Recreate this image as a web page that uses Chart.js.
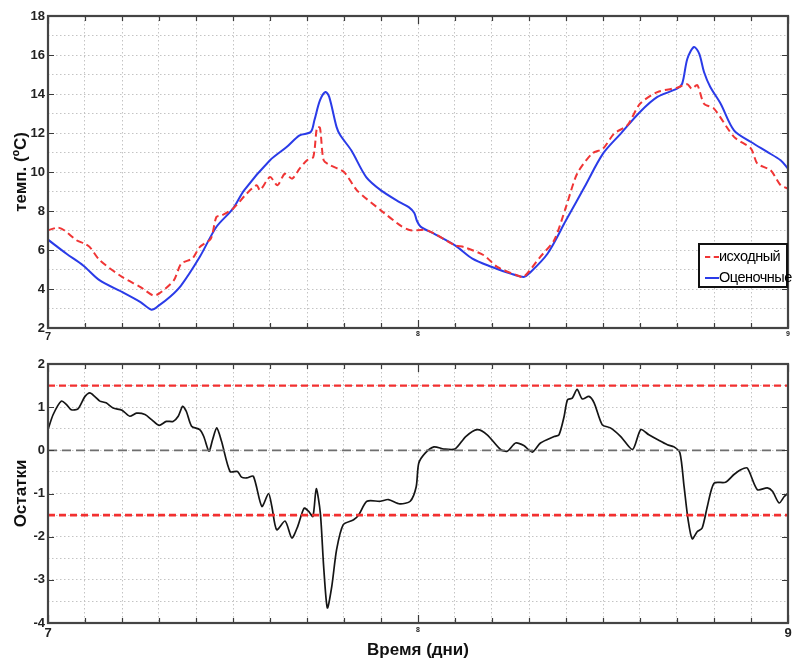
<!DOCTYPE html>
<html>
<head>
<meta charset="utf-8">
<script src="https://cdn.jsdelivr.net/npm/chart.js@4.4.1/dist/chart.umd.min.js"></script>
<style>
  html, body { margin:0; padding:0; background:#fff; }
  body { width:798px; height:659px; overflow:hidden; position:relative; font-family:"Liberation Sans", Arial, sans-serif; }
  #c1 { position:absolute; left:0; top:0; }
  #c2 { position:absolute; left:0; top:340px; }
  #legend { position:absolute; left:698px; top:243px; width:86px; height:41px; border:2px solid #111; background:#fff; overflow:visible; }
  .row { position:absolute; left:0; height:20px; white-space:nowrap; font-size:14.5px; letter-spacing:-0.5px; color:#000; font-family:"Liberation Sans Narrow","Liberation Sans",Arial,sans-serif; }
  .row span.s { position:absolute; left:5px; top:9px; width:14px; height:0; }
  .row span.t { position:absolute; left:19px; top:1px; }
</style>
</head>
<body>
<canvas id="c1" width="798" height="340"></canvas>
<canvas id="c2" width="798" height="319"></canvas>
<div id="legend">
  <div class="row" style="top:2px"><span class="s" style="border-top:2px dashed #f03535"></span><span class="t">исходный</span></div>
  <div class="row" style="top:23px"><span class="s" style="border-top:2px solid #2a3be8"></span><span class="t">Оценочные</span></div>
</div>
<script>
// ---------- data ----------
const xAxisMin = 7, xAxisMax = 9;
const seriesNames = ['исходный', 'Оценочные'];
const yTitleTop = 'темп. (ºC)';
const yTitleBottom = 'Остатки';
const xTitle = 'Время (дни)';

const estX = [7.000,7.050,7.095,7.140,7.200,7.250,7.280,7.300,7.330,7.360,7.410,7.455,7.500,7.530,7.600,7.645,7.680,7.710,7.720,7.735,7.750,7.760,7.780,7.790,7.820,7.860,7.900,7.950,7.975,7.990,7.997,8.007,8.043,8.100,8.147,8.200,8.250,8.286,8.300,8.350,8.400,8.450,8.500,8.548,8.600,8.647,8.700,8.714,8.728,8.746,8.760,8.773,8.790,8.818,8.854,8.900,8.944,8.980,9.000];
const estY = [6.53,5.81,5.21,4.44,3.85,3.33,2.94,3.16,3.60,4.19,5.64,7.18,8.12,9.06,10.60,11.28,11.88,12.05,12.65,13.67,14.10,13.85,12.30,11.88,11.10,9.74,9.06,8.46,8.20,7.90,7.50,7.20,6.84,6.24,5.56,5.13,4.79,4.62,4.79,5.81,7.52,9.23,10.94,11.97,13.08,13.85,14.27,14.53,15.81,16.41,16.07,15.13,14.36,13.50,12.14,11.54,11.03,10.60,10.17];

const origX = [7.000,7.027,7.045,7.077,7.100,7.113,7.140,7.200,7.250,7.284,7.300,7.340,7.360,7.390,7.410,7.440,7.455,7.470,7.500,7.537,7.564,7.573,7.600,7.620,7.640,7.660,7.680,7.700,7.717,7.727,7.735,7.745,7.763,7.800,7.835,7.900,7.953,7.980,8.025,8.100,8.124,8.178,8.214,8.268,8.286,8.330,8.368,8.400,8.430,8.470,8.500,8.530,8.566,8.600,8.647,8.700,8.728,8.740,8.755,8.773,8.800,8.854,8.900,8.917,8.953,8.980,9.000];
const origY = [7.01,7.15,7.00,6.50,6.32,6.15,5.47,4.62,4.10,3.67,3.76,4.44,5.30,5.56,6.15,6.58,7.69,7.78,8.12,8.89,9.32,9.06,9.74,9.32,9.91,9.66,10.17,10.60,10.77,12.30,12.27,10.60,10.34,10.00,9.06,8.03,7.25,7.01,7.01,6.24,6.15,5.73,5.13,4.70,4.62,5.64,6.50,8.21,9.91,10.94,11.20,11.97,12.40,13.50,14.10,14.32,14.50,14.27,14.45,13.50,13.25,11.80,11.20,10.43,10.09,9.32,9.15];

const resX = [7.000,7.014,7.036,7.050,7.063,7.081,7.100,7.113,7.126,7.140,7.157,7.176,7.200,7.221,7.239,7.262,7.280,7.300,7.320,7.338,7.352,7.364,7.374,7.388,7.410,7.421,7.435,7.445,7.456,7.469,7.492,7.512,7.523,7.537,7.555,7.578,7.596,7.605,7.618,7.641,7.659,7.675,7.692,7.704,7.716,7.725,7.736,7.745,7.755,7.767,7.780,7.798,7.826,7.840,7.862,7.898,7.920,7.951,7.979,7.995,8.002,8.020,8.043,8.070,8.100,8.129,8.160,8.187,8.223,8.241,8.264,8.286,8.309,8.331,8.368,8.381,8.395,8.404,8.417,8.430,8.444,8.462,8.476,8.498,8.520,8.548,8.580,8.602,8.624,8.647,8.674,8.692,8.708,8.719,8.730,8.741,8.755,8.768,8.782,8.800,8.831,8.854,8.872,8.890,8.917,8.944,8.958,8.976,8.990,9.000];
const resY = [0.48,0.83,1.14,1.06,0.94,0.96,1.25,1.33,1.25,1.14,1.10,0.98,0.93,0.79,0.86,0.83,0.71,0.58,0.67,0.67,0.79,1.02,0.90,0.56,0.48,0.32,-0.02,0.25,0.52,0.21,-0.49,-0.49,-0.62,-0.64,-0.60,-1.30,-1.00,-1.30,-1.84,-1.64,-2.03,-1.76,-1.34,-1.41,-1.53,-0.89,-1.45,-2.69,-3.65,-3.15,-2.30,-1.72,-1.61,-1.49,-1.18,-1.18,-1.14,-1.24,-1.18,-0.85,-0.30,-0.06,0.08,0.03,0.03,0.32,0.48,0.36,0.02,-0.02,0.17,0.11,-0.04,0.17,0.32,0.36,0.79,1.17,1.21,1.41,1.19,1.25,1.10,0.59,0.52,0.32,0.02,0.48,0.36,0.25,0.13,0.08,-0.06,-0.83,-1.61,-2.05,-1.88,-1.80,-1.30,-0.76,-0.74,-0.56,-0.45,-0.41,-0.91,-0.87,-0.95,-1.22,-1.07,-0.99];

const limitValues = [1.5, -1.5];
const zeroValue = 0;

const topYTicks = [2,4,6,8,10,12,14,16,18];
const botYTicks = [-4,-3,-2,-1,0,1,2];
const xLabels = [7,8,9];

// ---------- helpers ----------
const pts = (xs, ys) => xs.map((x, i) => ({ x, y: ys[i] }));
const hline = v => [{ x: xAxisMin, y: v }, { x: xAxisMax, y: v }];
const isInt = v => Math.abs(v - Math.round(v)) < 1e-6;

const framePlugin = {
  id: 'frame',
  afterDatasetsDraw(chart, args, opts) {
    const { ctx, chartArea: a, scales: { x, y } } = chart;
    ctx.save();
    ctx.strokeStyle = '#3a3a3a';
    ctx.lineWidth = 1.2;
    ctx.beginPath();
    x.ticks.forEach(t => {
      const px = Math.round(x.getPixelForValue(t.value)) + 0.5;
      const L = isInt(t.value) ? 8 : 5;
      ctx.moveTo(px, a.bottom); ctx.lineTo(px, a.bottom - L);
      ctx.moveTo(px, a.top); ctx.lineTo(px, a.top + L);
    });
    opts.yMarks.forEach(v => {
      const py = Math.round(y.getPixelForValue(v)) + 0.5;
      ctx.moveTo(a.left, py); ctx.lineTo(a.left + 6, py);
      ctx.moveTo(a.right, py); ctx.lineTo(a.right - 6, py);
    });
    ctx.stroke();
    ctx.lineWidth = 2.2;
    ctx.strokeStyle = '#444';
    ctx.strokeRect(a.left, a.top, a.right - a.left, a.bottom - a.top);
    ctx.restore();
  }
};

const tickFontFam = "'Liberation Sans Narrow','Liberation Sans',Arial,sans-serif";

function makeX(opts) {
  return {
    type: 'linear', min: xAxisMin, max: xAxisMax,
    afterFit: s => { s.height = opts.height; },
    afterBuildTicks: s => {
      const t = [];
      for (let i = 0; i <= 20; i++) t.push({ value: +(xAxisMin + i * 0.1).toFixed(1) });
      s.ticks = t;
    },
    ticks: {
      autoSkip: false, maxRotation: 0, minRotation: 0, padding: opts.tickPad, color: '#222',
      callback: v => (isInt(v) && xLabels.includes(Math.round(v))) ? String(Math.round(v)) : '',
      font: opts.tickFont
    },
    grid: { color: '#c4c4c4', lineWidth: 1, drawTicks: false },
    border: { display: false, dash: [1.5, 2.5] },
    title: opts.title
  };
}

function makeY(min, max, step, labels, title) {
  return {
    type: 'linear', min, max,
    afterFit: s => { s.width = 48; },
    afterBuildTicks: s => {
      const t = [];
      const n = Math.round((max - min) / step);
      for (let i = 0; i <= n; i++) t.push({ value: +(min + i * step).toFixed(2) });
      s.ticks = t;
    },
    ticks: {
      autoSkip: false, padding: 3, color: '#222',
      font: { family: tickFontFam, size: 13, weight: 'bold' },
      callback: v => labels.some(l => Math.abs(l - v) < 1e-6) ? String(Math.round(v)) : ''
    },
    grid: { color: '#c4c4c4', lineWidth: 1, drawTicks: false },
    border: { display: false, dash: [1.5, 2.5] },
    title: {
      display: true, text: title, color: '#111',
      font: { family: "'Liberation Sans',Arial,sans-serif", size: 17, weight: 'bold', lineHeight: 1.2 },
      padding: { top: 11, bottom: 0 }
    }
  };
}

Chart.defaults.animation = false;

// ---------- top chart ----------
new Chart(document.getElementById('c1'), {
  type: 'line',
  data: {
    datasets: [
      { label: seriesNames[0], data: pts(origX, origY), borderColor: '#f03535', borderWidth: 2, borderDash: [7, 4],
        pointRadius: 0, tension: 0.25, fill: false },
      { label: seriesNames[1], data: pts(estX, estY), borderColor: '#2a3be8', borderWidth: 2,
        pointRadius: 0, tension: 0.3, fill: false }
    ]
  },
  options: {
    responsive: false, devicePixelRatio: 1, parsing: true,
    layout: { padding: { left: 0, right: 10, top: 16, bottom: 0 } },
    plugins: { legend: { display: false }, tooltip: { enabled: false }, frame: { yMarks: topYTicks } },
    scales: {
      x: makeX({ height: 12, tickPad: 2, title: { display: false },
        tickFont: ctx => ({ family: tickFontFam, size: ctx.tick && Math.round(ctx.tick.value) === 7 ? 11 : 7, weight: 'bold' }) }),
      y: makeY(2, 18, 1, topYTicks, yTitleTop)
    }
  },
  plugins: [framePlugin]
});

// ---------- bottom chart ----------
new Chart(document.getElementById('c2'), {
  type: 'line',
  data: {
    datasets: [
      { label: 'limit+', data: hline(limitValues[0]), borderColor: '#f23030', borderWidth: 2.2, borderDash: [7, 4], pointRadius: 0 },
      { label: 'limit-', data: hline(limitValues[1]), borderColor: '#f23030', borderWidth: 2.6, borderDash: [7, 4], pointRadius: 0 },
      { label: 'zero', data: hline(zeroValue), borderColor: '#6e6e6e', borderWidth: 1.6, borderDash: [9, 5], pointRadius: 0 },
      { label: 'residual', data: pts(resX, resY), borderColor: '#151515', borderWidth: 1.7, pointRadius: 0, tension: 0.25 }
    ]
  },
  options: {
    responsive: false, devicePixelRatio: 1,
    layout: { padding: { left: 0, right: 10, top: 24, bottom: 0 } },
    plugins: { legend: { display: false }, tooltip: { enabled: false }, frame: { yMarks: botYTicks } },
    scales: {
      x: makeX({ height: 36, tickPad: 3,
        tickFont: ctx => ({ family: tickFontFam, size: ctx.tick && Math.round(ctx.tick.value) === 8 ? 7 : 13, weight: 'bold' }),
        title: { display: true, text: xTitle, color: '#111', padding: { top: 0, bottom: 0 },
          font: { family: "'Liberation Sans',Arial,sans-serif", size: 17, weight: 'bold', lineHeight: 1.0 } } }),
      y: makeY(-4, 2, 0.5, botYTicks, yTitleBottom)
    }
  },
  plugins: [framePlugin]
});
</script>
</body>
</html>
